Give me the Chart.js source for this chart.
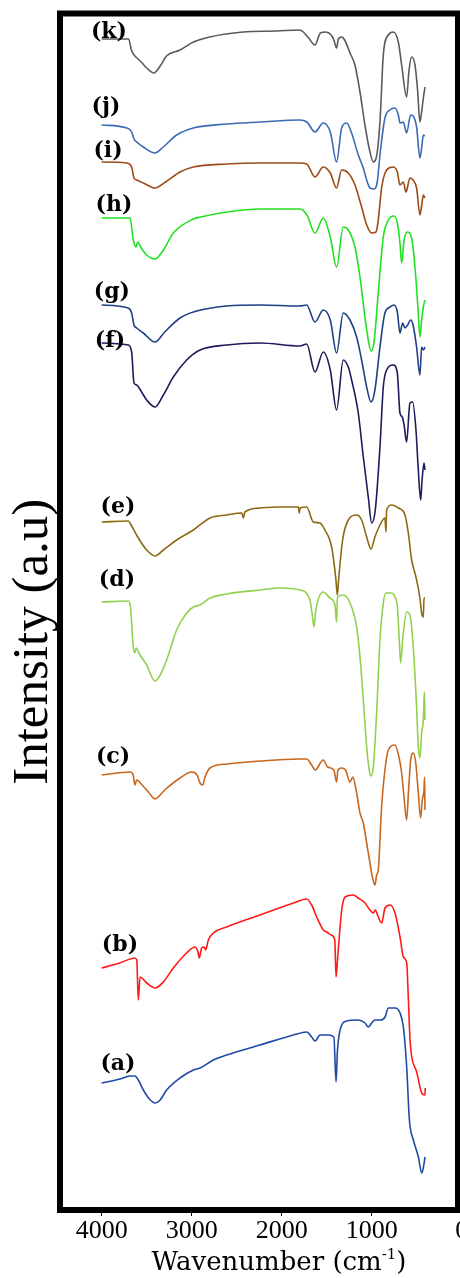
<!DOCTYPE html>
<html>
<head>
<meta charset="utf-8">
<script src="https://cdn.jsdelivr.net/npm/chart.js@4.4.1/dist/chart.umd.min.js"></script>
<style>
  html, body { margin: 0; padding: 0; background: #fff; overflow: hidden; }
  #wrap { position: relative; width: 460px; height: 1278px; }
</style>
</head>
<body>
<div id="wrap"><canvas id="ftir"></canvas></div>
<script>
/* FTIR stacked spectra (a)-(k) */

const wnTicks = [4000, 3000, 2000, 1000, 0];

// [wavenumber (cm-1), intensity (a.u., offset per sample)]
const specK = [[4000,1171],[3700,1171],[3670,1160],[3640,1155],[3620,1153],[3560,1148],[3500,1142],[3420,1137],[3350,1144],[3280,1154],[3130,1160],[2980,1168],[2800,1173],[2430,1178],[2060,1179],[1800,1180],[1760,1178],[1700,1172],[1630,1165],[1570,1177],[1510,1178],[1450,1175],[1420,1170],[1390,1162],[1370,1171],[1334,1173],[1300,1170],[1241,1157],[1186,1145],[1130,1118],[1075,1085],[1019,1058],[982,1048],[950,1052],[908,1088],[871,1155],[815,1175],[760,1178],[704,1168],[667,1145],[612,1113],[585,1140],[556,1153],[519,1145],[490,1120],[464,1088],[445,1098],[426,1112],[408,1123]];
const specJ = [[4000,1085],[3720,1082],[3667,1078],[3641,1071],[3611,1068],[3537,1063],[3407,1057],[3315,1063],[3167,1075],[2981,1082],[2611,1086],[2241,1088],[1800,1090],[1720,1088],[1630,1078],[1538,1087],[1460,1078],[1390,1048],[1334,1082],[1278,1087],[1223,1077],[1149,1055],[1093,1042],[1056,1030],[1019,1022],[975,1021],[938,1028],[908,1055],[853,1092],[797,1100],[741,1102],[704,1095],[686,1087],[649,1088],[612,1077],[567,1095],[540,1094],[501,1083],[464,1052],[445,1062],[426,1075],[410,1074]];
const specI = [[4000,1048],[3722,1047],[3667,1043],[3641,1032],[3611,1030],[3537,1027],[3407,1022],[3290,1028],[3130,1038],[2981,1043],[2611,1046],[2240,1047],[1797,1047],[1722,1046],[1630,1033],[1538,1043],[1460,1037],[1390,1022],[1334,1040],[1260,1037],[1186,1025],[1112,1003],[1055,985],[1001,977],[952,978],[927,990],[890,1022],[834,1040],[760,1043],[715,1038],[686,1025],[649,1028],[619,1018],[575,1032],[540,1030],[501,1022],[464,995],[444,1005],[426,1015],[410,1012]];
const specH = [[4000,992],[3685,992],[3648,970],[3618,963],[3600,968],[3560,962],[3500,955],[3407,951],[3315,960],[3204,977],[2981,991],[2900,993],[2611,998],[2241,1001],[1797,1001],[1720,995],[1630,977],[1538,992],[1460,973],[1390,943],[1316,983],[1260,980],[1186,963],[1130,933],[1075,893],[1038,870],[1008,859],[975,867],[927,917],[871,973],[815,990],[753,994],[715,987],[686,967],[667,947],[640,970],[604,978],[556,972],[519,943],[482,897],[464,873],[445,890],[426,903],[408,910]];
const specG = [[4000,905],[3704,902],[3667,897],[3641,885],[3611,882],[3537,877],[3407,868],[3300,878],[3130,892],[2981,898],[2611,904],[2241,905],[1797,904],[1722,905],[1630,888],[1538,900],[1460,890],[1390,857],[1316,897],[1241,890],[1167,873],[1112,850],[1056,823],[1008,808],[964,820],[908,863],[853,897],[797,903],[753,905],[715,898],[686,877],[656,887],[630,882],[600,885],[567,890],[540,885],[501,863],[464,835],[445,863],[426,860],[408,863]];
const specF = [[4000,867],[3704,865],[3667,858],[3641,827],[3611,825],[3570,820],[3500,810],[3407,803],[3315,815],[3204,833],[3056,850],[2907,860],[2611,865],[2241,867],[1797,864],[1722,866],[1630,838],[1538,858],[1460,840],[1390,800],[1316,850],[1260,843],[1223,830],[1149,797],[1093,753],[1038,713],[1000,687],[960,700],[908,763],[871,823],[834,840],[760,845],[715,837],[686,797],[660,793],[640,785],[612,768],[575,807],[545,808],[508,780],[482,740],[456,710],[440,730],[419,747],[408,740]];
const specE = [[4000,688],[3704,689],[3667,684],[3593,672],[3500,660],[3407,654],[3315,660],[3167,670],[2981,680],[2796,692],[2611,695],[2444,697],[2425,692],[2410,698],[2241,702],[2055,703],[1815,703],[1804,697],[1795,702],[1722,703],[1649,688],[1575,687],[1520,680],[1445,663],[1397,630],[1382,615],[1365,633],[1323,670],[1260,690],[1167,695],[1112,690],[1056,673],[1008,661],[964,673],[908,685],[853,692],[841,678],[834,700],[778,705],[704,702],[630,695],[593,677],[556,650],[508,633],[464,612],[445,597],[426,593],[419,612],[408,612]];
const specD = [[4000,608],[3704,609],[3680,603],[3648,562],[3630,557],[3618,562],[3580,556],[3500,545],[3407,529],[3350,535],[3278,550],[3167,580],[3056,597],[2981,603],[2907,605],[2796,612],[2611,616],[2241,620],[2018,622],[1797,620],[1686,610],[1660,595],[1641,583],[1620,600],[1538,618],[1464,612],[1408,605],[1390,588],[1380,613],[1316,615],[1241,607],[1167,583],[1130,553],[1093,510],[1056,463],[1027,440],[1008,434],[982,443],[945,497],[908,570],[871,607],[841,617],[778,617],[741,613],[715,603],[693,570],[678,547],[656,570],[612,598],[575,595],[538,563],[501,503],[482,463],[464,452],[445,477],[426,490],[415,518],[408,490]];
const specC = [[4000,435],[3685,438],[3650,435],[3630,425],[3611,430],[3550,425],[3480,418],[3407,411],[3300,420],[3130,432],[3000,438],[2940,435],[2907,427],[2877,425],[2852,433],[2796,442],[2611,446],[2241,449],[1797,451],[1722,451],[1667,445],[1629,440],[1537,450],[1490,443],[1420,440],[1390,428],[1375,440],[1334,442],[1290,440],[1241,428],[1210,433],[1167,417],[1130,397],[1093,387],[1056,367],[1019,347],[990,332],[964,325],[945,335],[927,340],[890,403],[853,440],[815,460],[741,465],[697,453],[667,437],[641,413],[612,390],[590,420],[567,450],[538,457],[510,447],[482,417],[456,392],[438,410],[419,420],[412,433],[408,400]];
const specB = [[4000,242],[3800,247],[3630,252],[3610,250],[3593,210],[3574,233],[3500,227],[3407,222],[3315,228],[3204,242],[3056,257],[2963,263],[2930,258],[2915,252],[2890,262],[2860,263],[2844,260],[2815,270],[2759,277],[2611,283],[2241,295],[1870,307],[1722,311],[1667,305],[1611,293],[1537,280],[1500,278],[1450,275],[1410,270],[1396,233],[1380,250],[1333,300],[1296,313],[1204,315],[1150,312],[1074,307],[1020,300],[981,297],[960,300],[935,295],[889,287],[852,302],[796,305],[741,297],[685,273],[648,253],[611,247],[592,210],[574,170],[555,153],[500,138],[444,117],[407,115],[405,122]];
const specA = [[4000,127],[3796,131],[3685,134],[3630,134],[3593,130],[3537,120],[3470,111],[3407,107],[3350,110],[3278,120],[3130,132],[2981,140],[2907,142],[2759,150],[2611,155],[2241,165],[1870,175],[1722,178],[1667,173],[1629,169],[1574,175],[1480,175],[1420,173],[1396,128],[1380,160],[1333,185],[1278,189],[1150,190],[1074,187],[1037,183],[1000,187],[963,190],[900,190],[852,193],[815,202],[741,202],[685,197],[648,183],[611,143],[581,90],[537,70],[481,53],[444,37],[425,43],[407,53]];

const sampleNames = ['(a)', '(b)', '(c)', '(d)', '(e)', '(f)', '(g)', '(h)', '(i)', '(j)', '(k)'];
const labelWn  = [3819, 3797, 3874, 3830, 3819, 3908, 3886, 3863, 3930, 3952, 3919];
const labelVal = [146, 265, 453, 630, 703, 869, 918, 1005, 1059, 1103, 1178];

const spectra = [specA, specB, specC, specD, specE, specF, specG, specH, specI, specJ, specK];
const colors = ['#1f4aa8', '#ff1a1a', '#c8671e', '#92d050', '#8c6a12', '#1c1c5c',
                '#1e3f82', '#22e022', '#9c4a1a', '#3b6bb5', '#5a5a5a'];

const overlay = {
    id: 'overlay',
    afterDraw(chart) {
        const {ctx, chartArea: a, scales} = chart;
        ctx.save();
        // sample labels
        ctx.fillStyle = '#000';
        ctx.font = 'bold 22px "DejaVu Serif"';
        ctx.textAlign = 'center';
        ctx.textBaseline = 'middle';
        sampleNames.forEach((t, i) => {
            ctx.fillText(t, scales.x.getPixelForValue(labelWn[i]), scales.y.getPixelForValue(labelVal[i]));
        });
        // frame
        ctx.strokeStyle = '#000';
        ctx.lineWidth = 6;
        ctx.strokeRect(a.left, a.top, a.right - a.left, a.bottom - a.top);
        // y title
        ctx.save();
        ctx.translate(a.left - 26, (a.top + a.bottom) / 2 + 30);
        ctx.rotate(-Math.PI / 2);
        ctx.font = '51px "Liberation Serif"';
        ctx.fillText('Intensity (a.u)', 0, 0);
        ctx.restore();
        // x title with superscript
        const main = 'Wavenumber (cm', sup = '-1', end = ')';
        const fMain = '26px "DejaVu Serif"', fSup = '15px "DejaVu Serif"';
        ctx.textAlign = 'left';
        ctx.textBaseline = 'alphabetic';
        ctx.font = fMain;
        const w1 = ctx.measureText(main).width, w3 = ctx.measureText(end).width;
        ctx.font = fSup;
        const w2 = ctx.measureText(sup).width;
        let x = (a.left + a.right) / 2 + 20 - (w1 + w2 + w3) / 2;
        const y = a.bottom + 60;
        ctx.font = fMain; ctx.fillText(main, x, y); x += w1;
        ctx.font = fSup; ctx.fillText(sup, x, y - 11); x += w2;
        ctx.font = fMain; ctx.fillText(end, x, y);
        ctx.restore();
    }
};

new Chart(document.getElementById('ftir').getContext('2d'), {
    type: 'line',
    data: {
        datasets: spectra.map((s, i) => ({
            label: sampleNames[i],
            data: s,
            borderColor: colors[i],
            borderWidth: 1.6,
            pointRadius: 0,
            fill: false,
            cubicInterpolationMode: 'monotone',
        })),
    },
    options: {
        responsive: true,
        maintainAspectRatio: false,
        animation: false,
        layout: { padding: { left: 60, right: 2, top: 13.5, bottom: 0 } },
        plugins: { legend: { display: false }, tooltip: { enabled: false } },
        scales: {
            x: {
                type: 'linear',
                reverse: true,
                min: 41,
                max: 4463,
                afterBuildTicks: s => { s.ticks = wnTicks.map(v => ({ value: v })); },
                afterFit: s => { s.height = 68; s.paddingLeft = 0; s.paddingRight = 0; },
                grid: { display: true, drawOnChartArea: false, drawTicks: true, tickLength: 6, color: '#000', lineWidth: 1 },
                border: { display: false },
                ticks: {
                    autoSkip: false,
                    maxRotation: 0,
                    padding: 0,
                    color: '#000',
                    font: { family: '"Liberation Serif"', size: 26 },
                    callback: v => String(v),
                },
            },
            y: {
                display: false,
                min: 0,
                max: 1196.5,
            },
        },
    },
    plugins: [overlay],
});
</script>
</body>
</html>
